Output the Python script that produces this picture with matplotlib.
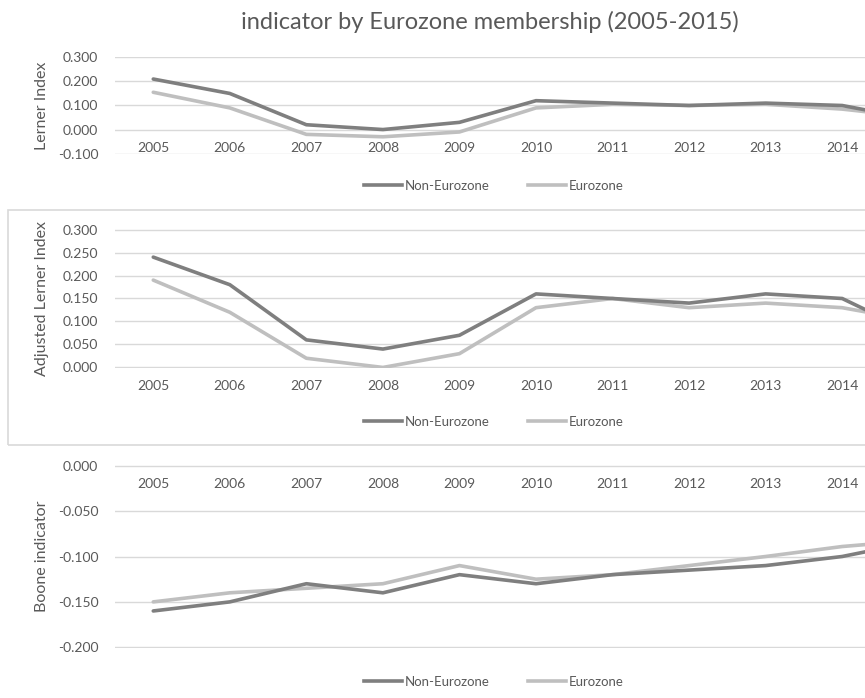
import numpy as np
import matplotlib
matplotlib.use('Agg')
import matplotlib.pyplot as plt
import matplotlib.patches as patches
from matplotlib.lines import Line2D

years = ['2005', '2006', '2007', '2008', '2009', '2010', '2011', '2012', '2013', '2014', '2015']

lerner_non = [0.210, 0.150, 0.020, 0.000, 0.030, 0.120, 0.110, 0.100, 0.110, 0.100, 0.040]
lerner_euro = [0.155, 0.090, -0.020, -0.030, -0.010, 0.090, 0.105, 0.100, 0.105, 0.085, 0.050]

adj_non = [0.240, 0.180, 0.060, 0.040, 0.070, 0.160, 0.150, 0.140, 0.160, 0.150, 0.070]
adj_euro = [0.190, 0.120, 0.020, 0.000, 0.030, 0.130, 0.150, 0.130, 0.140, 0.130, 0.100]

boone_non = [-0.160, -0.150, -0.130, -0.140, -0.120, -0.130, -0.120, -0.115, -0.110, -0.100, -0.083]
boone_euro = [-0.150, -0.140, -0.135, -0.130, -0.110, -0.125, -0.120, -0.110, -0.100, -0.089, -0.082]

plt.rcParams['font.family'] = ['Lato', 'DejaVu Sans']
plt.rcParams['axes.unicode_minus'] = False

TXT = '#595959'
C_NON = '#7f7f7f'
C_EURO = '#bfbfbf'
GRID = '#d9d9d9'

W, H = 865, 698
fig = plt.figure(figsize=(W/100, H/100), dpi=100)


def px_axes(left, top, right, bottom):
    return fig.add_axes([left/W, 1-bottom/H, (right-left)/W, (bottom-top)/H])


def panel(top, bottom, non, euro, ymin, ymax, step, ylabel, leg_y):
    # category axis runs past the right edge of the picture (2015 is cut off)
    ax = px_axes(115, top, 957, bottom)
    x = np.arange(len(years))
    ax.plot(x, non, color=C_NON, lw=2.6, solid_capstyle='round', zorder=3)
    ax.plot(x, euro, color=C_EURO, lw=2.6, solid_capstyle='round', zorder=2)
    ax.set_xlim(-0.5, len(years) - 0.5)
    pad = (ymax - ymin) * 0.004
    ax.set_ylim(ymin - pad, ymax + pad)
    ticks = np.round(np.arange(ymin, ymax + step/2, step), 3) + 0.0
    ax.set_yticks(ticks)
    ax.set_yticklabels(['%.3f' % (t + 0.0) if abs(t) > 1e-9 else '0.000' for t in ticks])
    # only the visible years get a label
    ax.set_xticks(x[:-1])
    ax.set_xticklabels(years[:-1])
    ax.yaxis.grid(True, color=GRID, lw=1)
    ax.set_axisbelow(True)
    for s in ['top', 'right', 'left']:
        ax.spines[s].set_visible(False)
    ax.spines['bottom'].set_position(('data', 0))
    ax.spines['bottom'].set_visible(False)
    ax.tick_params(axis='both', length=0, colors=TXT, labelsize=10)
    ax.tick_params(axis='x', pad=9)
    ax.tick_params(axis='y', pad=12)
    ax.patch.set_alpha(0)
    fig.text(42/W, 1-(top+bottom)/2/H, ylabel, rotation=90, ha='center', va='center',
             color=TXT, fontsize=11.5)
    handles = [Line2D([], [], color=C_NON, lw=2.6), Line2D([], [], color=C_EURO, lw=2.6)]
    fig.legend(handles, ['Non-Eurozone', 'Eurozone'], loc='center', ncol=2,
               bbox_to_anchor=(494/W, 1-leg_y/H), frameon=False, fontsize=9.5,
               labelcolor=TXT, handlelength=2.9, handletextpad=0.2, columnspacing=2.9)
    return ax


# chart 2 has a visible chart-area border
fig.patches.append(patches.Rectangle((8/W, 1-445/H), 870/W, 235/H, transform=fig.transFigure,
                                     facecolor='none', edgecolor='#d9d9d9', lw=1.2, zorder=0))

panel(57, 154, lerner_non, lerner_euro, -0.1, 0.3, 0.1, 'Lerner Index', 186)
panel(229, 368, adj_non, adj_euro, 0.0, 0.3, 0.05, 'Adjusted Lerner Index', 422)
panel(465, 648, boone_non, boone_euro, -0.2, 0.0, 0.05, 'Boone indicator', 682)

fig.text(490/W, 1-22/H, 'indicator by Eurozone membership (2005-2015)', ha='center', va='center',
         color=TXT, fontsize=17)

fig.savefig('out.png', dpi=100)
